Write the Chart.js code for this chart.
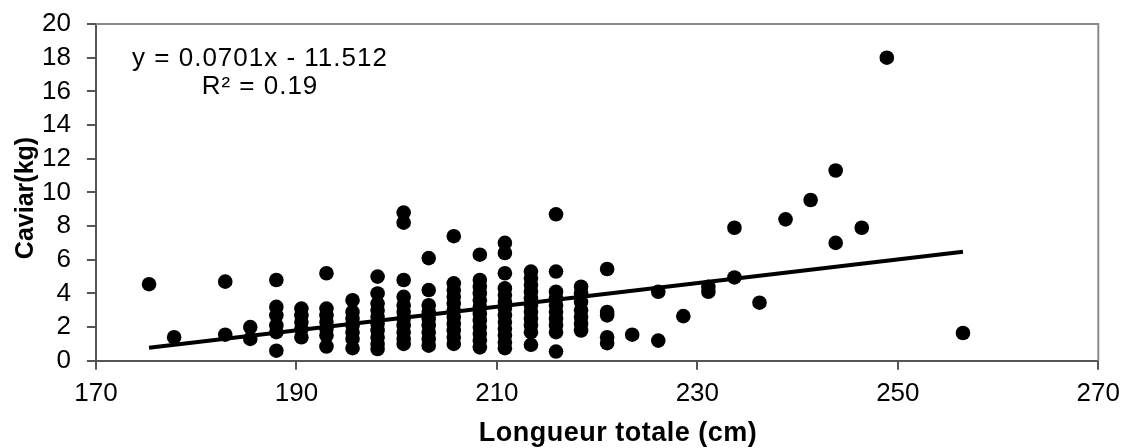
<!DOCTYPE html>
<html>
<head>
<meta charset="utf-8">
<script src="https://cdn.jsdelivr.net/npm/chart.js@4"></script>
<style>
  html, body { margin: 0; padding: 0; background: #fff; }
  #wrap { width: 1128px; height: 448px; }
</style>
</head>
<body>
<div id="wrap"><canvas id="caviarChart" width="1128" height="448"></canvas></div>
<script>
// fish length classes (cm) and caviar weights (kg)
const lengthCm = [175.3, 177.8, 182.9, 185.4, 188.0, 190.5, 193.0, 195.6, 198.1, 200.7,
  203.2, 205.7, 208.3, 210.8, 213.4, 215.9, 218.4, 221.0, 223.5, 226.1,
  228.6, 231.1, 233.7, 236.2, 238.8, 241.3, 243.8, 246.4, 248.9, 256.5];

const caviarKg = [
  [4.55],
  [1.4],
  [4.7, 1.55],
  [2.0, 1.3],
  [4.8, 3.2, 2.7, 2.1, 1.7, 0.6],
  [3.1, 2.7, 2.3, 1.9, 1.4],
  [5.2, 3.1, 2.7, 2.3, 1.9, 1.5, 0.85],
  [3.6, 2.9, 2.5, 2.1, 1.7, 1.3, 0.75],
  [5.0, 4.0, 3.4, 3.0, 2.6, 2.2, 1.8, 1.4, 1.0, 0.7],
  [8.8, 8.2, 4.8, 3.8, 3.3, 2.9, 2.5, 2.1, 1.7, 1.3, 1.0],
  [6.1, 4.2, 3.3, 2.9, 2.5, 2.1, 1.7, 1.3, 0.9],
  [7.4, 4.6, 4.2, 3.8, 3.4, 3.0, 2.6, 2.2, 1.8, 1.4, 1.0],
  [6.3, 4.8, 4.4, 4.0, 3.6, 3.2, 2.8, 2.4, 2.0, 1.6, 1.2, 0.8],
  [7.0, 6.4, 5.2, 4.3, 3.9, 3.5, 3.1, 2.7, 2.3, 1.9, 1.5, 1.1, 0.75],
  [5.3, 4.9, 4.5, 4.1, 3.7, 3.3, 2.9, 2.5, 2.1, 1.7, 0.95],
  [8.7, 5.3, 4.1, 3.7, 3.3, 2.9, 2.5, 2.1, 1.7, 0.55],
  [4.4, 4.0, 3.5, 3.0, 2.6, 2.2, 1.8],
  [5.45, 2.9, 2.7, 1.4, 1.05],
  [1.55],
  [4.1, 1.2],
  [2.65],
  [4.4, 4.1],
  [7.9, 4.95],
  [3.45],
  [8.4],
  [9.55],
  [11.3, 7.0],
  [7.9],
  [18.0],
  [1.65]
];

// linear trend end points
const trendX = [175.3, 256.5];
const trendY = [0.78, 6.47];

const xTicks = [170, 190, 210, 230, 250, 270];
const yTicks = [0, 2, 4, 6, 8, 10, 12, 14, 16, 18, 20];

const eqLine1 = 'y = 0.0701x - 11.512';
const eqLine2 = 'R² = 0.19';
const xTitle = 'Longueur totale (cm)';
const yTitle = 'Caviar(kg)';

const FONT = '"Liberation Sans", Arial, sans-serif';

const points = [];
lengthCm.forEach((len, i) => {
  caviarKg[i].forEach((kg) => points.push({ x: len, y: kg }));
});
const trendPoints = trendX.map((x, i) => ({ x: x, y: trendY[i] }));

// frame on top/right, equation and axis titles
const extras = {
  id: 'extras',
  afterDraw(chart) {
    const ctx = chart.ctx;
    const a = chart.chartArea;
    ctx.save();
    ctx.strokeStyle = '#8a8a8a';
    ctx.lineWidth = 2;
    ctx.beginPath();
    ctx.moveTo(a.left, a.top);
    ctx.lineTo(a.right, a.top);
    ctx.lineTo(a.right, a.bottom);
    ctx.stroke();

    ctx.fillStyle = '#000';
    ctx.textAlign = 'center';
    ctx.textBaseline = 'middle';
    ctx.font = '26px ' + FONT;
    ctx.letterSpacing = '1px';
    ctx.fillText(eqLine1, 260, 59);
    ctx.fillText(eqLine2, 260, 87);

    ctx.font = 'bold 27px ' + FONT;
    ctx.letterSpacing = '0.5px';
    ctx.fillText(xTitle, 618, 434);

    ctx.letterSpacing = '0px';
    ctx.font = 'bold 25px ' + FONT;
    ctx.translate(26, 198);
    ctx.rotate(-Math.PI / 2);
    ctx.fillText(yTitle, 0, 0);
    ctx.restore();
  }
};

new Chart(document.getElementById('caviarChart').getContext('2d'), {
  type: 'scatter',
  data: {
    datasets: [
      {
        label: 'Caviar',
        data: points,
        backgroundColor: '#000',
        borderColor: '#000',
        borderWidth: 0,
        pointRadius: 7.3,
        pointStyle: 'circle'
      },
      {
        label: 'Tendance',
        type: 'line',
        data: trendPoints,
        borderColor: '#000',
        borderWidth: 4,
        pointRadius: 0,
        fill: false
      }
    ]
  },
  options: {
    responsive: false,
    animation: false,
    devicePixelRatio: 1,
    layout: { padding: { left: 26, right: 23, top: 24, bottom: 31 } },
    plugins: {
      legend: { display: false },
      tooltip: { enabled: false }
    },
    scales: {
      x: {
        type: 'linear',
        min: 170,
        max: 270,
        afterBuildTicks: (axis) => { axis.ticks = xTicks.map((v) => ({ value: v })); },
        ticks: {
          color: '#000',
          font: { family: FONT, size: 26 },
          padding: 8,
          maxRotation: 0,
          autoSkip: false
        },
        grid: {
          drawOnChartArea: false,
          drawTicks: true,
          tickLength: 9,
          color: '#555',
          lineWidth: 2
        },
        border: { display: true, color: '#555', width: 2 }
      },
      y: {
        type: 'linear',
        min: 0,
        max: 20,
        afterBuildTicks: (axis) => { axis.ticks = yTicks.map((v) => ({ value: v })); },
        ticks: {
          color: '#000',
          font: { family: FONT, size: 26, lineHeight: 0.6 },
          padding: 16,
          autoSkip: false
        },
        grid: {
          drawOnChartArea: false,
          drawTicks: true,
          tickLength: 9,
          color: '#555',
          lineWidth: 2
        },
        border: { display: true, color: '#555', width: 2 }
      }
    }
  },
  plugins: [extras]
});
</script>
</body>
</html>
